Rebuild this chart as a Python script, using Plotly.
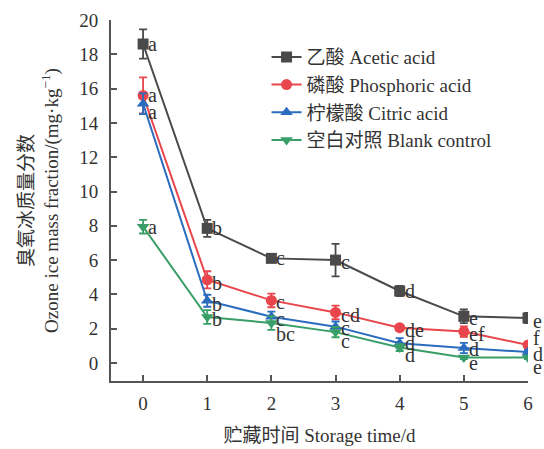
import plotly.graph_objects as go

days = [0, 1, 2, 3, 4, 5, 6]
x_ticks = [0, 1, 2, 3, 4, 5, 6]
y_ticks = [0, 2, 4, 6, 8, 10, 12, 14, 16, 18, 20]

series_names = ["乙酸 Acetic acid", "磷酸 Phosphoric acid", "柠檬酸 Citric acid", "空白对照 Blank control"]

acetic = [18.6, 7.85, 6.1, 6.0, 4.2, 2.72, 2.62]
acetic_err = [0.85, 0.5, 0.2, 0.95, 0.3, 0.4, 0.3]
phosphoric = [15.6, 4.85, 3.65, 2.95, 2.06, 1.83, 1.05]
phosphoric_err = [1.05, 0.5, 0.4, 0.4, 0.15, 0.3, 0.15]
citric = [15.12, 3.63, 2.7, 2.12, 1.15, 0.87, 0.64]
citric_err = [0.6, 0.35, 0.3, 0.3, 0.3, 0.3, 0.12]
blank = [7.95, 2.68, 2.33, 1.8, 0.9, 0.32, 0.32]
blank_err = [0.4, 0.4, 0.4, 0.3, 0.2, 0.1, 0.1]

acetic_sig = ["a", "b", "c", "c", "d", "e", "e"]
phosphoric_sig = ["a", "b", "c", "cd", "de", "ef", "f"]
citric_sig = ["a", "b", "c", "c", "d", "d", "d"]
blank_sig = ["a", "b", "bc", "c", "d", "e", "e"]

# label vertical offsets in pixels (positive = up)
acetic_off = [0, 0, 0, -2, 0, -2, -3]
phosphoric_off = [0, -3, -2, -3, -2, -2, 7]
citric_off = [-8, -3, -2, -1, 0, -1, -2]
blank_off = [0, -2, -11, -9, -7, -5, -9]

colors = ["#4a4a4a", "#e8464c", "#2b6cbf", "#3a9e68"]
symbols = ["square", "circle", "triangle-up", "triangle-down"]

values = [acetic, phosphoric, citric, blank]
errors = [acetic_err, phosphoric_err, citric_err, blank_err]
sigs = [acetic_sig, phosphoric_sig, citric_sig, blank_sig]
offs = [acetic_off, phosphoric_off, citric_off, blank_off]

FONT = "Liberation Serif, Noto Sans CJK SC, serif"

fig = go.Figure()
for name, v, e, c, s in zip(series_names, values, errors, colors, symbols):
    fig.add_trace(go.Scatter(
        x=days, y=v, name=name, mode="lines+markers",
        line=dict(color=c, width=2),
        marker=dict(symbol=s, size=11, color=c),
        error_y=dict(type="data", array=e, visible=True, color=c, thickness=1.8, width=4),
    ))

annotations = []
for v, sg, of in zip(values, sigs, offs):
    for xi, yi, t, o in zip(days, v, sg, of):
        annotations.append(dict(
            x=xi, y=yi, text=t, showarrow=False, xanchor="left", yanchor="middle",
            xshift=3, yshift=o, font=dict(family=FONT, size=20, color="#333333"),
        ))

fig.update_layout(
    width=544, height=449,
    margin=dict(l=111, r=16, t=20, b=68),
    paper_bgcolor="white", plot_bgcolor="white",
    font=dict(family=FONT, size=19, color="#333333"),
    showlegend=True,
    legend=dict(x=0.373, y=0.95, xanchor="left", yanchor="top",
                bgcolor="rgba(0,0,0,0)", font=dict(family=FONT, size=19),
                tracegroupgap=0, itemsizing="trace"),
    annotations=annotations,
    xaxis=dict(
        range=[-0.5, 6], tickvals=x_ticks, ticktext=[str(t) for t in x_ticks],
        showgrid=False, zeroline=False, showline=True, linecolor="#555555", linewidth=2,
        ticks="inside", ticklen=6, tickwidth=2, tickcolor="#555555",
        ticklabelstandoff=4, automargin=False,
        title=dict(text="贮藏时间 Storage time/d", font=dict(family=FONT, size=19), standoff=16),
    ),
    yaxis=dict(
        range=[-1.05, 20], tickvals=y_ticks,
        showgrid=False, zeroline=False, showline=True, linecolor="#555555", linewidth=2,
        ticks="inside", ticklen=6, tickwidth=2, tickcolor="#555555",
        ticklabelstandoff=7, automargin=False,
        title=dict(text="臭氧冰质量分数<br>Ozone ice mass fraction/(mg·kg<sup>−1</sup>)",
                   font=dict(family=FONT, size=19), standoff=16),
    ),
)

fig.write_html(
    "out.html",
    config={"displayModeBar": False},
    post_script="document.body.style.margin='0';document.body.style.overflow='hidden';",
)
